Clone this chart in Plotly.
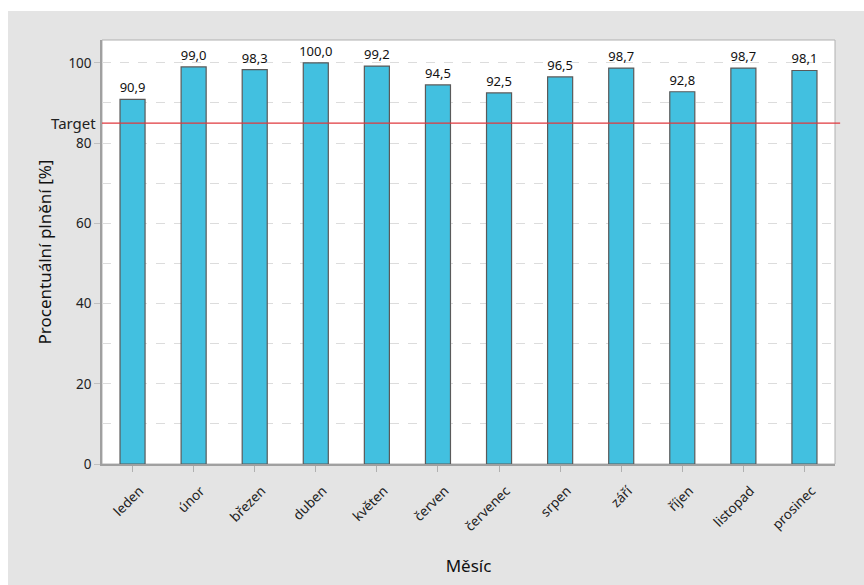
import plotly.graph_objects as go

months = ["leden", "únor", "březen", "duben", "květen", "červen",
          "červenec", "srpen", "září", "říjen", "listopad", "prosinec"]
plneni = [90.9, 99.0, 98.3, 100.0, 99.2, 94.5, 92.5, 96.5, 98.7, 92.8, 98.7, 98.1]
target = 85
y_ticks = [0, 20, 40, 60, 80, 100]

labels = [f"{v:.1f}".replace(".", ",") for v in plneni]

W, H = 864, 585
L, R, T, B = 102, 29, 40, 121

fig = go.Figure()
fig.add_trace(go.Bar(
    x=months, y=plneni,
    marker=dict(color="#42c0e0", line=dict(color="#5a5a5a", width=1.2)),
    text=labels, textposition="outside",
    textfont=dict(size=13, color="#111111", family="Noto Sans"),
    constraintext="none",
    cliponaxis=False,
    width=0.41,
))

fig.update_layout(
    width=W, height=H,
    margin=dict(l=L, r=R, t=T, b=B),
    paper_bgcolor="white",
    plot_bgcolor="white",
    font=dict(family="Noto Sans", color="#222222"),
    showlegend=False,
    uniformtext=dict(mode=False),
    shapes=[
        # gray panel behind the chart
        dict(type="rect", xref="paper", yref="paper", layer="below",
             x0=-(L - 8) / (W - L - R), x1=1 + R / (W - L - R),
             y0=-B / (H - T - B), y1=1 + (T - 11) / (H - T - B),
             fillcolor="#e4e4e4", line=dict(width=0)),
        # white plotting area with frame
        dict(type="rect", xref="paper", yref="paper", layer="below",
             x0=0, x1=1, y0=0, y1=1,
             fillcolor="white", line=dict(color="#b0b0b0", width=1)),
        # target line
        dict(type="line", xref="paper", yref="y", x0=0, x1=1.007,
             y0=target, y1=target, line=dict(color="#e0393e", width=1.3)),
    ],
    annotations=[
        dict(text="Target", xref="paper", yref="y", x=0, y=target,
             xanchor="right", yanchor="middle", xshift=-4, showarrow=False,
             font=dict(size=15, color="#222222", family="Noto Sans")),
    ],
)

fig.update_xaxes(
    title=dict(text="Měsíc", font=dict(size=17, color="#111111"), standoff=26),
    tickangle=-45, tickfont=dict(size=13.5, color="#222222"),
    ticks="outside", ticklen=6, tickcolor="#b0b0b0",
    ticklabelshift=7, ticklabelstandoff=6,
    showline=True, linecolor="#a0a0a0", linewidth=1.5,
    showgrid=False,
)
fig.update_yaxes(
    title=dict(text="Procentuální plnění [%]", font=dict(size=17, color="#111111"), standoff=12),
    range=[0, 105.7], tickvals=y_ticks,
    tickfont=dict(size=13.5, color="#222222"),
    ticks="outside", ticklen=6, tickcolor="#c0c0c0",
    showline=True, linecolor="#a0a0a0", linewidth=1.5,
    showgrid=True, gridcolor="#dcdcdc", griddash="dash", gridwidth=1,
    minor=dict(dtick=10, showgrid=True, gridcolor="#dcdcdc", griddash="dash", gridwidth=1),
    zeroline=False,
)

fig.write_html("out.html")
